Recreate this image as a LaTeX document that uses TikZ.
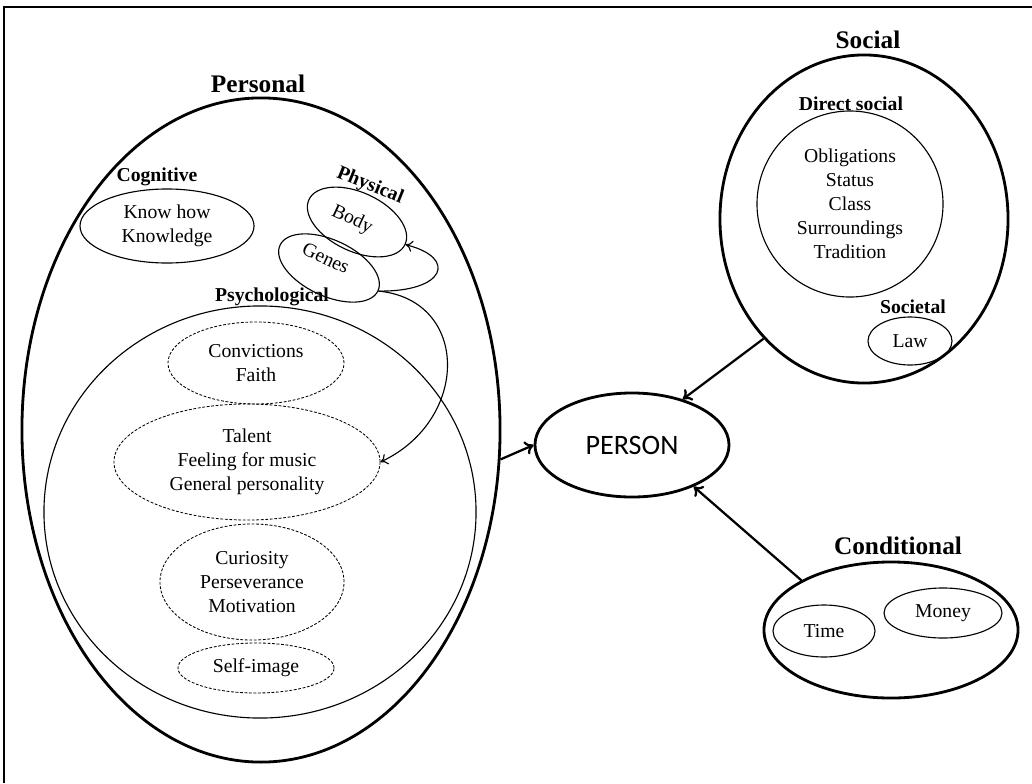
\documentclass[tikz,border=0pt]{standalone}
\usepackage{fontspec}
\setmainfont{Liberation Serif}
\newfontfamily\personfont{Carlito}
\usetikzlibrary{shapes.geometric,positioning,arrows.meta}

\begin{document}
\begin{tikzpicture}[x=0.025cm, y=-0.025cm,
  outer/.style={draw, ellipse, line width=2pt, inner sep=0pt},
  inner/.style={draw, ellipse, line width=0.8pt, inner sep=0pt, align=center, font=\fontsize{14}{17}\selectfont},
  psy/.style={inner, line width=0.6pt, dash pattern=on 2pt off 1.2pt},
  head/.style={font=\fontsize{18}{20}\selectfont\bfseries},
  sub/.style={font=\fontsize{14}{16}\selectfont\bfseries},
  word/.style={font=\fontsize{14}{17}\selectfont},
  link/.style={-{To[length=6pt, width=10pt]}, line width=1.6pt},
  curvelink/.style={-{To[length=5pt, width=8pt]}, line width=0.8pt}]

\useasboundingbox (0,0) rectangle (1032,783);
\draw[line width=1.2pt] (4,783) -- (4,7) -- (1032,7);

% personal side
\node[outer, minimum width=11.95cm, minimum height=16.6cm] (personal) at (261,430) {};
\node[head] (personalLab) at (258,84) {Personal};

\node[inner, minimum width=4.35cm, minimum height=1.85cm] (cognitive) at (167,226) {Know how\\Knowledge};
\node[sub] (cognitiveLab) at (157,177) {Cognitive};

\node[inner, rotate=-25, minimum width=2.65cm, minimum height=1.475cm] (body) at (357,222) {};
\node[word, rotate=-25] (bodyText) at (352,220) {Body};
\node[inner, rotate=-25, minimum width=2.7cm, minimum height=1.4cm] (genes) at (329,268) {};
\node[word, rotate=-25] (genesText) at (326,258) {Genes};
\node[sub, rotate=-22] (physicalLab) at (370,186) {Physical};

\node[inner, minimum width=10.8cm, minimum height=10.3cm] (psych) at (260,512) {};
\node[sub] (psychLab) at (272,297) {Psychological};

\node[psy, minimum width=4.4cm, minimum height=2.05cm] (convictions) at (256,363) {Convictions\\Faith};
\node[psy, minimum width=6.65cm, minimum height=2.9cm] (talent) at (247,462) {Talent\\Feeling for music\\General personality};
\node[psy, minimum width=4.6cm, minimum height=2.9cm] (curiosity) at (252,582) {Curiosity\\Perseverance\\Motivation};
\node[psy, minimum width=3.9cm, minimum height=1.25cm] (selfimage) at (256,668) {Self-image};

\draw[curvelink] (genes.east) .. controls (445,292) and (458,258) .. (body.east);
\draw[curvelink] (genes.east) .. controls (470,300) and (470,420) .. (talent.east);

% person
\node[outer, minimum width=4.85cm, minimum height=2.6cm, font=\personfont\fontsize{20}{24}\selectfont] (person) at (632,445) {PERSON};

% social side
\node[outer, minimum width=7.2cm, minimum height=8.2cm] (social) at (864,219) {};
\node[head] (socialLab) at (868,40) {Social};
\node[inner, circle, minimum size=4.65cm] (direct) at (850,204) {Obligations\\Status\\Class\\Surroundings\\Tradition};
\node[sub] (directLab) at (851,104) {Direct social};
\node[inner, minimum width=2.1cm, minimum height=1.2cm] (law) at (910,341) {Law};
\node[sub] (societalLab) at (913,307) {Societal};

% conditional side
\node[outer, minimum width=6.35cm, minimum height=3.4cm] (conditional) at (891,630) {};
\node[head] (conditionalLab) at (898,546) {Conditional};
\node[inner, minimum width=2.55cm, minimum height=1.3cm] (time) at (824,631) {Time};
\node[inner, minimum width=2.95cm, minimum height=1.25cm] (money) at (943,613) {Money};

\draw[link] (personal.-7) -- (person.west);
\draw[link] (social.230) -- (person.42);
\draw[link] (conditional.151) -- (person.-34);

\end{tikzpicture}
\end{document}
